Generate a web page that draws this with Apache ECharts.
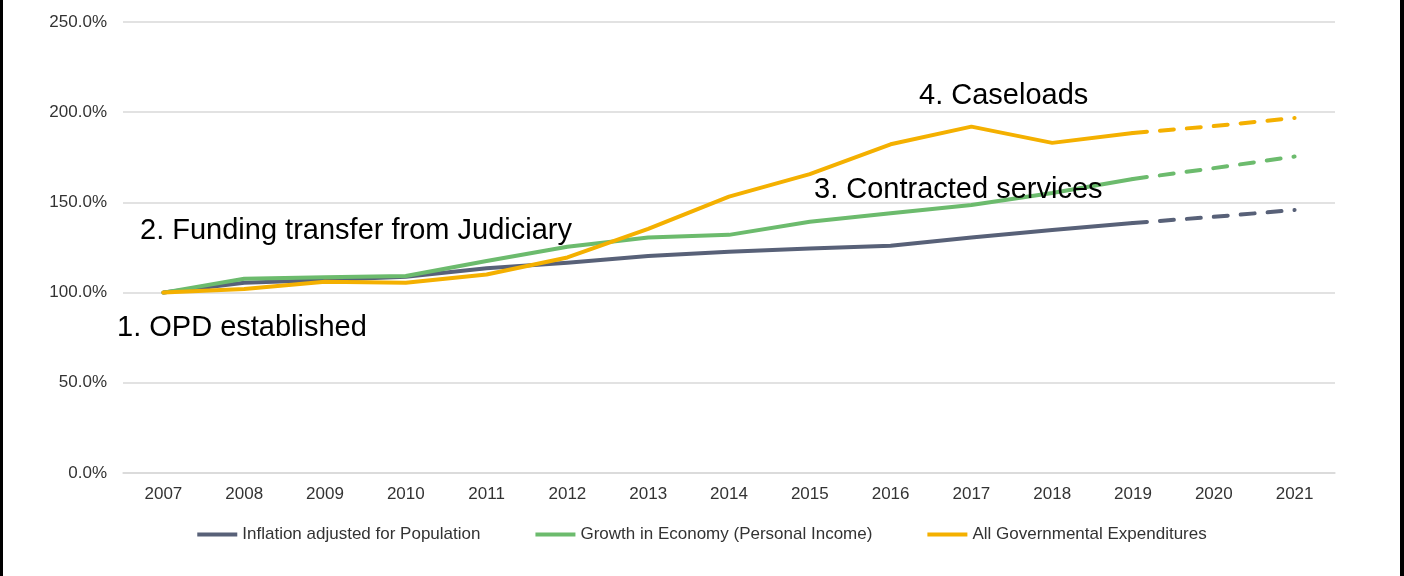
<!DOCTYPE html>
<html>
<head>
<meta charset="UTF-8">
<title>Growth comparison</title>
<script src="https://cdn.jsdelivr.net/npm/echarts@6/dist/echarts.min.js"></script>
<style>
  html, body { margin: 0; padding: 0; background: #fff; }
  #chart { width: 1404px; height: 576px; }
</style>
</head>
<body>
<div id="chart"></div>
<script type="text/javascript">
  var years = ['2007','2008','2009','2010','2011','2012','2013','2014','2015','2016','2017','2018','2019','2020','2021'];
  var inflation = [100, 105.5, 107, 108.8, 113.5, 116.6, 120.3, 122.7, 124.5, 126, 130.6, 134.7, 138.6, 142, 145.8];
  var growth = [100, 107.7, 108.5, 109.2, 117.5, 125.4, 130.6, 132, 139.3, 144, 148.6, 155.2, 163, 169, 175.4];
  var spending = [100, 102, 106, 105.5, 110, 119.5, 135.3, 153.2, 165.7, 182.2, 192, 183, 188.5, 192.3, 196.8];
  var names = ['Inflation adjusted for Population', 'Growth in Economy (Personal Income)', 'All Governmental Expenditures'];
  var colors = ['#586178', '#6cbb6d', '#f4b000'];
  var projectFrom = '2019';

  var font = 'Liberation Sans, Arial, sans-serif';
  var cut = years.indexOf(projectFrom);

  function solidPart(arr) { return arr.map(function (v, i) { return i <= cut ? v : null; }); }
  function dashPart(arr) { return arr.map(function (v, i) { return i >= cut ? v : null; }); }

  var series = [];
  [inflation, growth, spending].forEach(function (arr, k) {
    series.push({
      name: names[k], type: 'line', data: solidPart(arr), symbol: 'none',
      color: colors[k], lineStyle: { width: 4, color: colors[k], cap: 'round', join: 'round' },
      z: 2 + k
    });
    series.push({
      name: names[k] + ' (projected)', type: 'line', data: dashPart(arr), symbol: 'none',
      color: colors[k], lineStyle: { width: 4, color: colors[k], type: [14, 13], cap: 'round' },
      z: 2 + k
    });
  });

  function note(text, x, y) {
    return { type: 'text', left: x, top: y - 13, z: 10,
      style: { text: text, font: '29px ' + font, fill: '#000' } };
  }

  var myChart = echarts.init(document.getElementById('chart'));
  var option = {
    animation: false,
    backgroundColor: '#fff',
    grid: { left: 123, right: 69, top: 22, bottom: 103 },
    legend: {
      data: names, top: 521, left: 'center', icon: 'rect', itemWidth: 40, itemHeight: 4, itemGap: 55,
      textStyle: { fontFamily: font, fontSize: 17, color: '#333' }
    },
    xAxis: {
      type: 'category', data: years, boundaryGap: true,
      axisLine: { show: true, lineStyle: { color: '#d9d9d9', width: 1.5 } },
      axisTick: { show: false },
      axisLabel: { fontFamily: font, fontSize: 17, color: '#333', margin: 13 }
    },
    yAxis: {
      type: 'value', min: 0, max: 250, interval: 50,
      axisLine: { show: false }, axisTick: { show: false },
      splitLine: { lineStyle: { color: '#d9d9d9', width: 1.5 } },
      axisLabel: { fontFamily: font, fontSize: 17, color: '#333', margin: 16,
        formatter: function (v) { return v.toFixed(1) + '%'; } }
    },
    graphic: [
      { type: 'rect', shape: { x: 0, y: 0, width: 3, height: 576 }, style: { fill: '#000' } },
      { type: 'rect', shape: { x: 1400, y: 0, width: 4, height: 576 }, style: { fill: '#000' } },
      note('1. OPD established', 117, 326),
      note('2. Funding transfer from Judiciary', 140, 229),
      note('3. Contracted services', 814, 188),
      note('4. Caseloads', 919, 94)
    ],
    series: series
  };
  myChart.setOption(option);
</script>
</body>
</html>
